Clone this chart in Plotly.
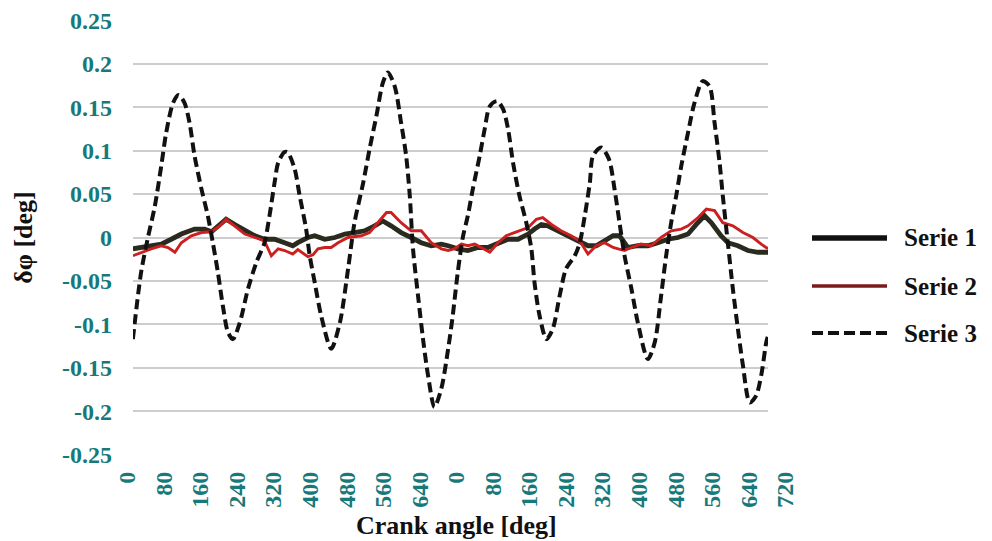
import plotly.graph_objects as go

# ---- data: angular velocity fluctuation over two crank cycles (cumulative angle, deg) ----
ANGLE_S1 = [12, 30, 52, 74, 96, 118, 147, 169, 184, 198, 216, 235, 257, 279, 300, 322,
            344, 362, 373, 395, 410, 432, 454, 476, 497, 519, 541, 559, 577, 599, 621,
            643, 665, 687, 702, 723, 745, 767, 789, 811, 833, 855, 877, 891, 906, 920,
            942, 964, 986, 1008, 1026, 1044, 1063, 1077, 1088, 1095, 1117, 1139, 1161,
            1183, 1205, 1227, 1245, 1263, 1278, 1299, 1314, 1336, 1358, 1380, 1402]
SERIE_1 = [-0.013, -0.0115, -0.0095, -0.0076, -0.002, 0.004, 0.0097, 0.0097, 0.0066,
           0.0134, 0.021, 0.015, 0.0077, 0.002, -0.002, -0.002, -0.006, -0.0095, -0.006,
           0.0, 0.002, -0.002, 0.0, 0.004, 0.0057, 0.0077, 0.0134, 0.019, 0.0134, 0.0057,
           0.0, -0.006, -0.0095, -0.0076, -0.0095, -0.013, -0.015, -0.0115, -0.0115,
           -0.006, -0.002, -0.002, 0.004, 0.0097, 0.015, 0.0134, 0.0077, 0.002, -0.004,
           -0.0095, -0.0095, -0.004, 0.002, 0.002, -0.0076, -0.0115, -0.0095, -0.0095,
           -0.006, -0.002, 0.0, 0.004, 0.015, 0.025, 0.017, 0.002, -0.006, -0.0095,
           -0.015, -0.017, -0.017]

ANGLE_S2 = [12, 30, 52, 74, 89, 104, 118, 140, 162, 184, 202, 216, 235, 257, 279, 300,
            315, 330, 344, 362, 373, 395, 406, 417, 432, 446, 461, 483, 512, 530, 548,
            567, 577, 599, 621, 643, 665, 687, 702, 716, 731, 745, 760, 774, 793, 811,
            829, 847, 877, 895, 909, 928, 949, 971, 990, 1008, 1026, 1044, 1063, 1074,
            1088, 1103, 1124, 1146, 1168, 1190, 1212, 1227, 1249, 1267, 1285, 1303, 1325,
            1347, 1369, 1387, 1402]
SERIE_2 = [-0.021, -0.017, -0.013, -0.0095, -0.0115, -0.017, -0.006, 0.002, 0.0057,
           0.0066, 0.0134, 0.021, 0.0134, 0.004, 0.0, -0.004, -0.021, -0.013, -0.015,
           -0.019, -0.014, -0.022, -0.02, -0.013, -0.0115, -0.0115, -0.006, 0.0, 0.002,
           0.0057, 0.017, 0.0287, 0.0287, 0.017, 0.0077, 0.0077, -0.006, -0.013, -0.015,
           -0.013, -0.0076, -0.0095, -0.0076, -0.0115, -0.017, -0.006, 0.002, 0.0057,
           0.0115, 0.021, 0.023, 0.015, 0.0077, 0.002, -0.004, -0.019, -0.0095, -0.006,
           -0.0115, -0.013, -0.015, -0.0115, -0.0076, -0.0095, 0.0, 0.0077, 0.0097,
           0.0134, 0.023, 0.0326, 0.031, 0.017, 0.0134, 0.0057, 0.0, -0.0076, -0.013]

ANGLE_S3 = [12, 30, 45, 60, 74, 85, 100, 112, 125, 136, 147, 162, 176, 187, 198, 209,
            220, 231, 246, 264, 282, 300, 311, 322, 330, 344, 351, 366, 377, 391, 399,
            410, 424, 446, 465, 483, 497, 516, 530, 545, 559, 570, 585, 599, 610, 618,
            625, 636, 647, 658, 672, 687, 702, 712, 723, 734, 745, 756, 771, 782, 793,
            809, 822, 833, 844, 858, 873, 884, 891, 902, 917, 931, 946, 960, 979, 990,
            1001, 1012, 1019, 1037, 1054, 1066, 1077, 1088, 1103, 1117, 1139, 1154,
            1168, 1179, 1190, 1201, 1212, 1227, 1241, 1259, 1274, 1285, 1296, 1303,
            1314, 1325, 1336, 1347, 1362, 1376, 1387, 1398, 1402]
SERIE_3 = [-0.117, -0.040, 0.0, 0.036, 0.082, 0.121, 0.155, 0.164, 0.155, 0.132, 0.094,
           0.056, 0.025, -0.006, -0.040, -0.079, -0.109, -0.117, -0.098, -0.059, -0.029,
           -0.006, 0.025, 0.063, 0.086, 0.0985, 0.098, 0.079, 0.048, 0.010, -0.021,
           -0.052, -0.090, -0.128, -0.098, -0.036, 0.017, 0.063, 0.102, 0.140, 0.178,
           0.190, 0.174, 0.132, 0.094, 0.048, -0.013, -0.067, -0.117, -0.159, -0.195,
           -0.174, -0.128, -0.090, -0.040, 0.0, 0.025, 0.056, 0.094, 0.125, 0.151, 0.157,
           0.148, 0.125, 0.086, 0.048, 0.017, -0.013, -0.052, -0.090, -0.117, -0.105,
           -0.067, -0.036, -0.021, -0.006, 0.025, 0.063, 0.094, 0.1035, 0.090, 0.056,
           0.017, -0.021, -0.059, -0.098, -0.140, -0.121, -0.067, -0.021, 0.017, 0.048,
           0.082, 0.121, 0.155, 0.180, 0.174, 0.132, 0.086, 0.048, -0.006, -0.059, -0.105,
           -0.147, -0.190, -0.182, -0.159, -0.121, -0.113]

SERIES_NAMES = ["Serie 1", "Serie 2", "Serie 3"]

# crank-angle scale: two consecutive 720 deg cycles
X_TICK_VALUES = list(range(0, 1441, 80))
X_TICK_LABELS = ["0", "80", "160", "240", "320", "400", "480", "560", "640",
                 "0", "80", "160", "240", "320", "400", "480", "560", "640", "720"]
Y_TICK_VALUES = [0.25, 0.2, 0.15, 0.1, 0.05, 0, -0.05, -0.1, -0.15, -0.2, -0.25]
Y_TICK_LABELS = ["0.25", "0.2", "0.15", "0.1", "0.05", "0",
                 "-0.05", "-0.1", "-0.15", "-0.2", "-0.25"]

# ---- layout geometry (pixels) ----
W, H = 992, 541
PAPER_L, PAPER_R = 120, 790      # horizontal extent of the plotting paper
PLOT_T, PLOT_B = 20, 455         # top / bottom of the data frame
FRAME_L, FRAME_R = 133, 768      # horizontal extent of the gridded frame
SCALE_L, SCALE_R = 127.4, 785.4  # pixel positions of 0 and 1440 deg on the angle scale

paper_w = PAPER_R - PAPER_L
paper_h = PLOT_B - PLOT_T
px_per_deg = (SCALE_R - SCALE_L) / 1440.0
frame_range = [(FRAME_L - SCALE_L) / px_per_deg, (FRAME_R - SCALE_L) / px_per_deg]


def px_to_paper(px, py):
    return (px - PAPER_L) / paper_w, (PLOT_B - py) / paper_h


TEAL = "#17797a"
SERIF = "Liberation Serif"
GRID = "#cdcdcd"
CLEAR = "rgba(0,0,0,0)"

STYLES = [
    dict(color="#2b2a1e", width=4.8),
    dict(color="#cc1f1f", width=2.9),
    dict(color="#111111", width=4, dash="10px,5px", shape="spline", smoothing=0.8),
]
LEGEND_STYLES = [
    dict(color="#111111", width=5.5),
    dict(color="#7a1a1a", width=3.5),
    dict(color="#111111", width=4, dash="11px,5px"),
]

fig = go.Figure()
for xs, ys, name, style in zip([ANGLE_S1, ANGLE_S2, ANGLE_S3],
                               [SERIE_1, SERIE_2, SERIE_3], SERIES_NAMES, STYLES):
    fig.add_trace(go.Scatter(x=xs, y=ys, name=name, mode="lines", line=style,
                             showlegend=False))

# carrier for the crank-angle scale (draws nothing)
fig.add_trace(go.Scatter(x=X_TICK_VALUES, y=[None] * len(X_TICK_VALUES),
                         xaxis="x2", yaxis="y2", mode="lines",
                         showlegend=False, hoverinfo="skip"))

tick_font = dict(family=SERIF, size=24, color=TEAL, weight="bold")
title_font = dict(family=SERIF, size=26, color="#111111", weight="bold")
legend_font = dict(family=SERIF, size=25, color="#111111", weight="bold")

# legend: sample line + label per series
LEGEND_ROWS_PY = [238, 286, 333]
for name, style, py in zip(SERIES_NAMES, LEGEND_STYLES, LEGEND_ROWS_PY):
    x0, yy = px_to_paper(812, py)
    x1, _ = px_to_paper(887, py)
    xt, _ = px_to_paper(902, py)
    fig.add_shape(type="line", xref="paper", yref="paper", x0=x0, x1=x1, y0=yy, y1=yy,
                  line=style, layer="above")
    fig.add_annotation(xref="paper", yref="paper", x=xt, y=yy, text=name,
                       showarrow=False, xanchor="left", yanchor="middle",
                       font=legend_font)

fig.update_layout(
    width=W, height=H,
    margin=dict(l=PAPER_L, r=W - PAPER_R, t=PLOT_T, b=H - PLOT_B, autoexpand=False),
    paper_bgcolor="white", plot_bgcolor=CLEAR,
    showlegend=False,
    # data frame: gridlines and the value scale
    xaxis=dict(domain=[(FRAME_L - PAPER_L) / paper_w, (FRAME_R - PAPER_L) / paper_w],
               range=frame_range, showgrid=False, zeroline=False, showline=False,
               showticklabels=False, ticks="", automargin=False),
    yaxis=dict(range=[-0.2504, 0.2504], tickvals=Y_TICK_VALUES, ticktext=Y_TICK_LABELS,
               showgrid=True, gridcolor=GRID, gridwidth=1.6, zeroline=False,
               showline=False, ticks="", tickfont=tick_font, ticklabelstandoff=20,
               automargin=False,
               title=dict(text="δφ [deg]", font=title_font, standoff=21)),
    # crank-angle scale with cycle-wise labels
    xaxis2=dict(domain=[(SCALE_L - PAPER_L) / paper_w, (SCALE_R - PAPER_L) / paper_w],
                range=[0, 1440], anchor="y2", tickvals=X_TICK_VALUES,
                ticktext=X_TICK_LABELS, tickangle=-90, tickfont=tick_font,
                showgrid=False, zeroline=False, showline=False, ticks="",
                ticklabelstandoff=11, automargin=False,
                title=dict(text="Crank angle [deg]", font=title_font, standoff=9)),
    yaxis2=dict(domain=[0, 1], range=[-0.25, 0.25], anchor="x2", visible=False,
                fixedrange=True, automargin=False),
)

fig.write_html("out.html")
